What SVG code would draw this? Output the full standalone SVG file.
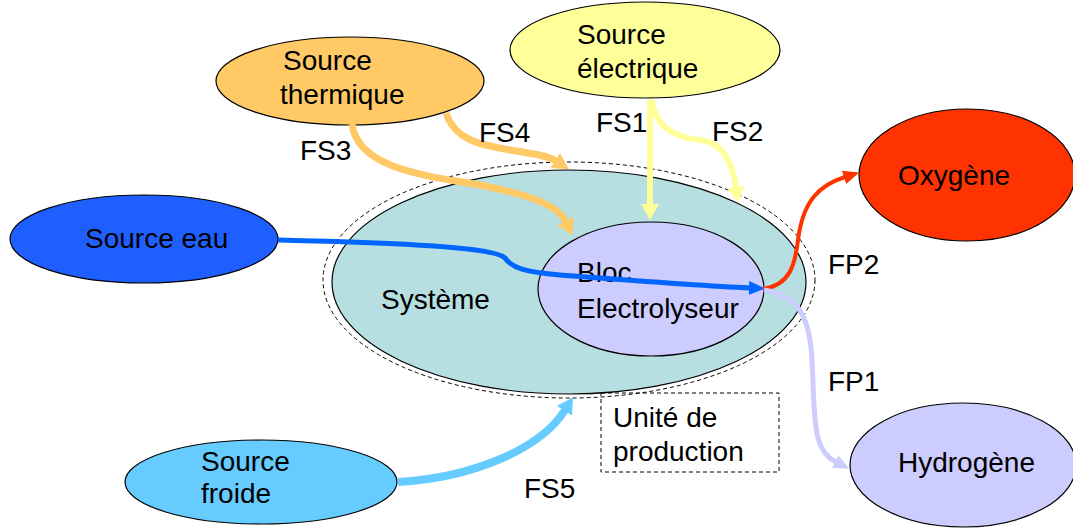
<svg xmlns="http://www.w3.org/2000/svg" width="1073" height="529" viewBox="0 0 1073 529">
<style>
text{font-family:"Liberation Sans",Arial,sans-serif;font-size:28px;fill:#000}
.n{stroke:#000;stroke-width:1.2}
.c{fill:none;stroke-linecap:butt}
</style>
<defs>
<marker id="mOr" viewBox="0 0 16 18" refX="1" refY="9" markerWidth="16" markerHeight="18" markerUnits="userSpaceOnUse" orient="auto"><path d="M0,0L16,9L0,18z" fill="#FFC966"/></marker>
<marker id="mYe" viewBox="0 0 16 18" refX="1" refY="9" markerWidth="16" markerHeight="18" markerUnits="userSpaceOnUse" orient="auto"><path d="M0,0L16,9L0,18z" fill="#FFFF99"/></marker>
<marker id="mBl" viewBox="0 0 16 14" refX="1" refY="7" markerWidth="16" markerHeight="14" markerUnits="userSpaceOnUse" orient="auto"><path d="M0,0L16,7L0,14z" fill="#0066FF"/></marker>
<marker id="mRe" viewBox="0 0 16 14" refX="1" refY="7" markerWidth="16" markerHeight="14" markerUnits="userSpaceOnUse" orient="auto"><path d="M0,0L16,7L0,14z" fill="#FF3300"/></marker>
<marker id="mLa" viewBox="0 0 16 14" refX="1" refY="7" markerWidth="16" markerHeight="14" markerUnits="userSpaceOnUse" orient="auto"><path d="M0,0L16,7L0,14z" fill="#CCCCFF"/></marker>
<marker id="mCy" viewBox="0 0 16 18" refX="1" refY="9" markerWidth="16" markerHeight="18" markerUnits="userSpaceOnUse" orient="auto"><path d="M0,0L16,9L0,18z" fill="#66CCFF"/></marker>
</defs>
<rect width="1073" height="529" fill="#fff"/>
<g id="unite">
<ellipse cx="569" cy="280" rx="246" ry="118" fill="none" stroke="#000" stroke-width="1" stroke-dasharray="4,3"/>
</g>
<g id="systeme">
<ellipse class="n" cx="569" cy="282" rx="237" ry="112" fill="#B7DEE1"/>
<text x="381" y="309">Système</text>
</g>
<g id="bloc">
<ellipse class="n" cx="651" cy="289" rx="113" ry="67" fill="#CCCCFF"/>
<text x="577" y="282">Bloc</text>
<text x="577" y="318">Electrolyseur</text>
</g>
<g id="unite-label">
<rect x="601" y="393" width="178" height="79" fill="none" stroke="#000" stroke-width="1" stroke-dasharray="4,3"/>
<text x="613" y="427">Unité de</text>
<text x="613" y="461">production</text>
</g>
<g id="source-thermique">
<ellipse class="n" cx="350" cy="81" rx="134" ry="44" fill="#FFC966"/>
<text x="283" y="70">Source</text>
<text x="280" y="104">thermique</text>
</g>
<g id="source-electrique">
<ellipse class="n" cx="645" cy="50" rx="135" ry="48" fill="#FFFF99"/>
<text x="577" y="44">Source</text>
<text x="577" y="78">électrique</text>
</g>
<g id="source-eau">
<ellipse class="n" cx="144" cy="239" rx="134" ry="44" fill="#1F5FFF"/>
<text x="85" y="248">Source eau</text>
</g>
<g id="oxygene">
<ellipse class="n" cx="967" cy="175" rx="108" ry="66" fill="#FF3300"/>
<text x="898" y="185">Oxygène</text>
</g>
<g id="hydrogene">
<ellipse class="n" cx="963" cy="465" rx="113" ry="62" fill="#CCCCFF"/>
<text x="898" y="472">Hydrogène</text>
</g>
<g id="source-froide">
<ellipse class="n" cx="261" cy="482" rx="136" ry="42" fill="#66CCFF"/>
<text x="201" y="471">Source</text>
<text x="201" y="503">froide</text>
</g>
<g id="connectors">
<path class="c" d="M352,124 C358,170 430,176 480,185 C530,195 558,205 566,222" stroke="#FFC966" stroke-width="7" marker-end="url(#mOr)"/>
<path class="c" d="M446,113 C455,140 480,145 510,150 C535,154 548,156 556,161" stroke="#FFC966" stroke-width="7" marker-end="url(#mOr)"/>
<path class="c" d="M650,99 L650,205" stroke="#FFFF99" stroke-width="6" marker-end="url(#mYe)"/>
<path class="c" d="M652,100 C655,130 680,138 700,140 C725,143 733,165 736,188" stroke="#FFFF99" stroke-width="6" marker-end="url(#mYe)"/>
<path class="c" d="M278,240 C400,243 495,247 505,258 C512,268 525,272 560,275 C650,282 700,286 750,288" stroke="#0066FF" stroke-width="5" marker-end="url(#mBl)"/>
<path class="c" d="M763,289 C790,285 795,265 798,240 C803,200 820,185 845,177" stroke="#FF3300" stroke-width="4" marker-end="url(#mRe)"/>
<path class="c" d="M764,290 C800,295 810,320 812,360 C815,420 812,450 836,462" stroke="#CCCCFF" stroke-width="5" marker-end="url(#mLa)"/>
<path class="c" d="M398,482 C470,478 540,450 565,410" stroke="#66CCFF" stroke-width="8" marker-end="url(#mCy)"/>
</g>
<g id="labels">
<text x="300" y="160">FS3</text>
<text x="479" y="142">FS4</text>
<text x="596" y="132">FS1</text>
<text x="712" y="141">FS2</text>
<text x="828" y="274">FP2</text>
<text x="828" y="391">FP1</text>
<text x="524" y="498">FS5</text>
</g>
</svg>
